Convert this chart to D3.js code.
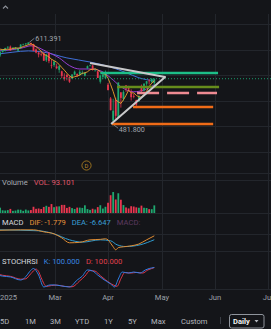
<!DOCTYPE html>
<html>
<head>
<meta charset="utf-8">
<script src="https://cdn.jsdelivr.net/npm/d3@7"></script>
<style>
html, body { margin: 0; padding: 0; background: #141519; }
svg { display: block; }
text { font-family: Roboto, "Noto Sans", sans-serif; }
</style>
</head>
<body>
<svg id="chart" width="271" height="329"></svg>
<script>
// daily bars, index 0 = Jan 31 2025 ... 61 = Apr 30 2025
var opens = [605.7,590.9,596.0,598.3,603.2,604.6,602.3,600.8,598.4,602.3,607.9,608.6,608.3,610.5,608.7,600.3,595.3,593.2,594.6,583.2,
  595.0,575.7,575.8,573.6,568.4,566.1,557.4,560.5,557.1,554.9,560.8,561.8,560.8,561.6,559.3,570.8,575.3,575.2,566.9,566.0,
  549.8,557.5,555.1,545.1,523.7,489.2,521.3,493.4,533.2,523.0,544.1,539.7,531.7,527.6,521.1,519.1,541.6,536.0,546.7,551.4,548.9,547.6];
var highs = [608.1,598.5,600.5,603.0,605.0,606.4,603.7,603.6,602.9,608.4,609.3,609.7,611.4,610.7,609.1,601.9,596.6,597.6,596.1,592.5,
  595.6,584.9,582.6,578.1,575.8,567.0,562.9,561.7,558.2,561.4,567.2,562.9,568.2,567.4,564.9,575.2,576.4,576.4,570.7,566.3,
  560.7,562.9,567.4,547.9,525.9,523.2,524.9,548.6,533.5,536.4,544.3,543.3,537.9,531.2,521.7,528.9,545.4,547.4,551.0,553.9,555.4,554.6];
var lows = [598.5,588.7,595.5,597.0,600.8,598.1,600.3,600.0,596.8,601.3,606.7,605.6,607.8,605.2,597.6,594.2,587.9,589.5,582.4,580.7,
  578.7,570.5,573.0,569.4,563.8,555.2,551.3,551.9,548.0,554.4,560.0,557.3,558.9,561.5,558.0,569.9,573.6,567.2,566.2,555.6,
  546.9,553.7,554.8,536.4,505.1,481.8,489.7,493.1,509.3,520.1,533.9,536.8,520.3,523.9,508.5,518.6,531.6,535.5,543.7,545.3,548.5,541.6];
var closes = [600.1,596.0,600.0,602.4,604.5,599.0,603.0,603.5,601.6,607.9,607.9,609.7,611.1,608.6,598.1,595.4,592.5,592.8,582.6,592.4,
  582.0,575.1,581.3,571.0,574.2,558.9,554.3,557.2,549.8,561.1,565.5,559.4,565.4,563.8,564.0,574.1,575.5,568.6,567.1,555.7,
  559.4,561.0,564.5,536.7,505.3,504.4,496.5,548.6,524.6,533.9,539.1,537.6,525.7,526.4,513.9,527.3,535.4,546.7,550.6,550.9,554.3,554.5];
// volume, millions
var volumes = [60,65,33,30,35,50,26,30,41,40,26,42,31,36,76,51,55,49,74,88,
  75,109,71,80,81,99,99,62,75,60,49,66,66,62,94,48,38,52,43,72,
  95,54,76,125,217,256,165,241,162,97,68,56,83,79,69,64,90,64,61,47,47,93];

// moving averages
var ma5 = [601.0,600.7,600.0,600.4,600.6,600.4,601.8,602.5,602.3,603.0,604.8,606.1,607.6,609.0,607.1,604.6,601.1,597.5,592.3,591.1,
  588.5,585.0,582.7,580.4,576.7,572.1,567.9,563.1,558.9,556.3,557.6,558.6,560.2,563.0,563.6,565.3,568.6,569.2,569.9,568.2,
  565.3,562.4,561.5,555.5,545.4,534.4,521.5,518.3,515.9,521.6,528.5,536.8,532.2,532.5,528.5,526.2,525.7,529.9,534.8,542.2,547.6,551.4];
var maMid = [[0,598],[5,599.5],[10,603],[13,606],[15,604.5],[19,597],[24,587],[28,575],[32,569.7],[36,569.7],[40,567],[44,556],[48,542],[53,534],[57,537],[61,545]];
var maLong = [[0,593],[6,596],[12,598],[18,596],[27,587],[36,580.6],[44,572.8],[50,564],[55,556],[61,551]];

// MACD (12,26,9)
var difPts = [[0,5.1],[9,5.7],[14,5.7],[18,3.2],[22,0.7],[25,-4.3],[28,-10.5],[32,-9.9],[36,-6.8],[40,-6.2],[42,-5.5],[43,-6.8],
  [44,-11],[45,-15.5],[46,-19.3],[47,-16.5],[49,-15.5],[52,-14.3],[55,-12],[58,-6.8],[61,-1.779]];
var deaPts = [[0,5.7],[16,4.5],[22,0.7],[28,-6.8],[33,-9.7],[40,-6.8],[44,-8],[46.5,-13],[50,-15.2],[55.5,-13],[61,-6.647]];

// StochRSI
var kPts = [[0,63],[2,58],[5,54],[9,39],[11,55],[12.5,80],[14,95],[15,85],[16,63],[18,5],[20.5,15],[22,15],[25,10],[28,5],
  [31,39],[33,58],[35,88],[37,83],[39,63],[41,44],[44,20],[45.5,5],[47,44],[48.5,78],[51,73],[53,78],[55.5,73],[57.5,88],[59,95],[61,100]];
var dPts = [[0,68],[2,62],[5,57],[9,43],[11,45],[13,70],[15,92],[16,80],[17,50],[19,8],[21,12],[23,14],[26,8],[29,6],
  [32,35],[34,58],[36,85],[38,82],[40,60],[42,40],[45,15],[46.5,8],[48,45],[49.5,75],[52,73],[54,76],[56.5,73],[58.5,88],[60,95],[61,100]];

var monthLabels = ["2025", "Mar", "Apr", "May", "Jun", "Jul"];
var monthTickIdx = [4.3, 22.4, 43, 64, 84.6, 105.2];
var priceGrid = [640, 600, 560, 520, 480, 440];

// drawn levels and trend lines
var levelPrices = [563.4, 541.6, 532.2, 510.3, 483.8];
var levelFrom = [40, 46.5, 54.3, 52.7, 44.5];
var levelTo = [85.8, 86.2, 85.4, 83.9, 83.9];
var levelColors = ["#1dbf88", "#668c1c", "#ee8a92", "#ef6b17", "#ef6b17"];
var levelDashed = [false, false, true, false, false];
var triangleIdx = [36, 65.2, 44.2];
var trianglePrice = [579.1, 557.2, 483.8];

var highLabel = "611.391", lowLabel = "481.800";
var volLabel = "93.101", difLabel = "-1.779", deaLabel = "-6.647";
var kLabel = "100.000", dLabel = "100.000";
var ranges = ["5D", "1M", "3M", "YTD", "1Y", "5Y", "Max", "Custom"];

var svg = d3.select("#chart");
var W = 271, H = 329;
var UP = "#1fa870", DOWN = "#e8364f";

svg.append("rect").attr("width", W).attr("height", H).attr("fill", "#141519");

var x = d3.scaleLinear().domain([0, 61]).range([-2.5, 154.3]);
var y = d3.scaleLinear().domain([440, 640]).range([152, 24]);
var yVol = d3.scaleLinear().domain([0, 260]).range([213, 191.7]);
var yMacd = d3.scaleLinear().domain([-22, 8]).range([252, 228]);
var ySto = d3.scaleLinear().domain([0, 100]).range([288, 267.5]);

var grid = svg.append("g").attr("stroke", "#23262c").attr("stroke-width", 1);
grid.selectAll(".hg").data(priceGrid).enter().append("line")
  .attr("x1", 0).attr("x2", W)
  .attr("y1", function (d) { return Math.round(y(d)) + 0.5; })
  .attr("y2", function (d) { return Math.round(y(d)) + 0.5; });
// pane borders
[173, 180, 213, 234, 251, 289].forEach(function (yy) {
  grid.append("line").attr("x1", 0).attr("x2", W).attr("y1", yy + 0.5).attr("y2", yy + 0.5);
});
grid.selectAll(".vg").data(monthTickIdx.slice(1)).enter().append("line")
  .attr("x1", function (d) { return Math.round(x(d)) + 0.5; })
  .attr("x2", function (d) { return Math.round(x(d)) + 0.5; })
  .attr("y1", 14).attr("y2", 289);

// top chevron
svg.append("path").attr("d", "M3,8.5 L5.5,6 L8,8.5").attr("fill", "none")
  .attr("stroke", "#8c9098").attr("stroke-width", 1.1);

// moving averages
var lineIdx = d3.line().x(function (d) { return x(d[0]); }).curve(d3.curveMonotoneX);
svg.append("path").datum(maLong)
  .attr("d", lineIdx.y(function (d) { return y(d[1]); }))
  .attr("fill", "none").attr("stroke", "#3f6fd8").attr("stroke-width", 1);
svg.append("path").datum(maMid)
  .attr("d", lineIdx.y(function (d) { return y(d[1]); }))
  .attr("fill", "none").attr("stroke", "#9a3fd6").attr("stroke-width", 1);

// candles
var bars = d3.range(closes.length);
var cg = svg.append("g");
cg.selectAll(".wick").data(bars).enter().append("line")
  .attr("x1", function (i) { return x(i); }).attr("x2", function (i) { return x(i); })
  .attr("y1", function (i) { return y(highs[i]); }).attr("y2", function (i) { return y(lows[i]); })
  .attr("stroke", function (i) { return closes[i] >= opens[i] ? UP : DOWN; }).attr("stroke-width", 0.8);
cg.selectAll(".body").data(bars).enter().append("rect")
  .attr("x", function (i) { return x(i) - 0.9; }).attr("width", 1.8)
  .attr("y", function (i) { return y(Math.max(opens[i], closes[i])); })
  .attr("height", function (i) { return Math.max(0.6, Math.abs(y(opens[i]) - y(closes[i]))); })
  .attr("fill", function (i) { return closes[i] >= opens[i] ? UP : DOWN; });

svg.append("path").datum(ma5)
  .attr("d", d3.line().x(function (d, i) { return x(i); }).y(function (d) { return y(d); }))
  .attr("fill", "none").attr("stroke", "#f0a32e").attr("stroke-width", 0.9);

// last price dotted line
svg.append("line").attr("x1", 0).attr("x2", W)
  .attr("y1", y(closes[closes.length - 1])).attr("y2", y(closes[closes.length - 1]))
  .attr("stroke", "#1a9d6c").attr("stroke-width", 1).attr("stroke-dasharray", "1,2");

// horizontal levels
levelPrices.forEach(function (p, k) {
  svg.append("line")
    .attr("x1", x(levelFrom[k])).attr("x2", x(levelTo[k]))
    .attr("y1", y(p)).attr("y2", y(p))
    .attr("stroke", levelColors[k]).attr("stroke-width", 2.4)
    .attr("stroke-dasharray", levelDashed[k] ? "22,8" : null);
});
// triangle
svg.append("path")
  .attr("d", "M" + x(triangleIdx[0]) + "," + y(trianglePrice[0]) +
    "L" + x(triangleIdx[1]) + "," + y(trianglePrice[1]) +
    "L" + x(triangleIdx[2]) + "," + y(trianglePrice[2]))
  .attr("fill", "none").attr("stroke", "#c8c8ca").attr("stroke-width", 2).attr("stroke-linejoin", "round");

// high / low labels
var hiI = d3.maxIndex(highs), loI = d3.minIndex(lows);
svg.append("line").attr("x1", x(hiI) + 1).attr("y1", y(highs[hiI]))
  .attr("x2", x(hiI) + 6).attr("y2", y(highs[hiI]) - 4).attr("stroke", "#8d9199").attr("stroke-width", 0.8);
svg.append("text").attr("x", x(hiI) + 7).attr("y", y(highs[hiI]) - 1.5)
  .attr("font-size", 7.2).attr("fill", "#a3a7ae").text(highLabel);
svg.append("line").attr("x1", x(loI) + 1).attr("y1", y(lows[loI]))
  .attr("x2", x(loI) + 5).attr("y2", y(lows[loI]) + 3).attr("stroke", "#8d9199").attr("stroke-width", 0.8);
svg.append("text").attr("x", x(loI) + 5.5).attr("y", y(lows[loI]) + 6.5)
  .attr("font-size", 7.2).attr("fill", "#a3a7ae").text(lowLabel);

// dividend marker
svg.append("circle").attr("cx", 86.5).attr("cy", 165.5).attr("r", 4.6)
  .attr("fill", "none").attr("stroke", "#a67a20").attr("stroke-width", 0.9);
svg.append("text").attr("x", 86.5).attr("y", 167.7).attr("text-anchor", "middle")
  .attr("font-size", 5.8).attr("fill", "#b88a2a").text("D");

// volume
svg.append("g").selectAll("rect").data(bars).enter().append("rect")
  .attr("x", function (i) { return x(i) - 0.9; }).attr("width", 1.8)
  .attr("y", function (i) { return yVol(volumes[i]); })
  .attr("height", function (i) { return yVol(0) - yVol(volumes[i]); })
  .attr("fill", function (i) { return closes[i] >= opens[i] ? UP : DOWN; });

function legend(yy, parts) {
  var t = svg.append("text").attr("x", 2).attr("y", yy).attr("font-size", 7.6);
  parts.forEach(function (p) {
    t.append("tspan").attr("fill", p[1]).attr("dx", p[2] || 0).text(p[0]);
  });
}
legend(185, [["Volume", "#a9adb4"], ["VOL: " + volLabel, "#e0566a", 6]]);
legend(225, [["MACD", "#d6d9de"], ["DIF: " + difLabel, "#e6923a", 6], ["DEA: " + deaLabel, "#3a9fd6", 6], ["MACD:", "#5e3a60", 6]]);
legend(264, [["STOCHRSI", "#d6d9de"], ["K: " + kLabel, "#3a86e0", 6], ["D: " + dLabel, "#e0414e", 6]]);

// MACD lines
svg.append("path").datum(deaPts)
  .attr("d", lineIdx.y(function (d) { return yMacd(d[1]); }))
  .attr("fill", "none").attr("stroke", "#2f9bcf").attr("stroke-width", 1);
svg.append("path").datum(difPts)
  .attr("d", lineIdx.y(function (d) { return yMacd(d[1]); }))
  .attr("fill", "none").attr("stroke", "#df8c33").attr("stroke-width", 1);

// StochRSI lines
svg.append("path").datum(dPts)
  .attr("d", lineIdx.y(function (d) { return ySto(d[1]); }))
  .attr("fill", "none").attr("stroke", "#e0364a").attr("stroke-width", 1);
svg.append("path").datum(kPts)
  .attr("d", lineIdx.y(function (d) { return ySto(d[1]); }))
  .attr("fill", "none").attr("stroke", "#2f7fe6").attr("stroke-width", 1);

// time axis
svg.append("g").selectAll("text").data(monthLabels).enter().append("text")
  .attr("x", function (d, k) { return Math.max(0, x(monthTickIdx[k]) - (k === 0 ? 9 : 0)); })
  .attr("text-anchor", function (d, k) { return k === 0 ? "start" : "middle"; })
  .attr("y", 299.5).attr("font-size", 7.6).attr("fill", "#9da1a9").text(function (d) { return d; });

// range buttons
var rangeX = [0, 25, 50, 75, 104, 128, 151, 181];
svg.append("g").selectAll("text").data(ranges).enter().append("text")
  .attr("x", function (d, k) { return rangeX[k]; }).attr("y", 324)
  .attr("font-size", 7.6).attr("fill", "#b4b8bf").text(function (d) { return d; });
svg.append("line").attr("x1", 220.5).attr("x2", 220.5).attr("y1", 317).attr("y2", 324)
  .attr("stroke", "#3a3d44");
svg.append("rect").attr("x", 229.5).attr("y", 314.5).attr("width", 34.5).attr("height", 13.5).attr("rx", 2)
  .attr("fill", "none").attr("stroke", "#8f949c").attr("stroke-width", 1);
svg.append("text").attr("x", 233).attr("y", 324).attr("font-size", 7.6).attr("font-weight", "bold")
  .attr("fill", "#f2f3f5").text("Daily");
svg.append("path").attr("d", "M254.5,320 L258.5,320 L256.5,322.5 Z").attr("fill", "#b4b8bf");
</script>
</body>
</html>
